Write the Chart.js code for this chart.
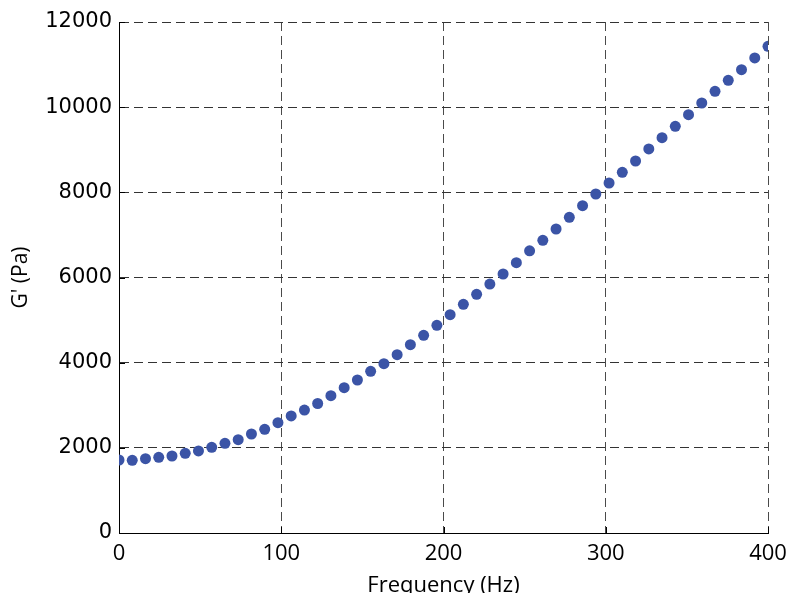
<!DOCTYPE html>
<html>
<head>
<meta charset="utf-8">
<script src="https://cdn.jsdelivr.net/npm/chart.js@4"></script>
<style>
  html, body { margin: 0; padding: 0; background: #fff; }
  #wrap { width: 791px; height: 593px; }
</style>
</head>
<body>
<div id="wrap"><canvas id="c" width="791" height="593" style="width:791px;height:593px"></canvas></div>
<script>
// Frequency sweep (Hz)
const frequencyHz = [
  0, 8.16, 16.33, 24.49, 32.65, 40.82, 48.98, 57.14, 65.31, 73.47,
  81.63, 89.80, 97.96, 106.12, 114.29, 122.45, 130.61, 138.78, 146.94, 155.10,
  163.27, 171.43, 179.59, 187.76, 195.92, 204.08, 212.24, 220.41, 228.57, 236.73,
  244.90, 253.06, 261.22, 269.39, 277.55, 285.71, 293.88, 302.04, 310.20, 318.37,
  326.53, 334.69, 342.86, 351.02, 359.18, 367.35, 375.51, 383.67, 391.84, 400
];

// Storage modulus G' (Pa)
const storageModulusPa = [
  1714, 1707, 1745, 1778, 1808, 1872, 1926, 2012, 2106, 2191,
  2325, 2435, 2590, 2748, 2888, 3041, 3224, 3412, 3593, 3797,
  3976, 4187, 4422, 4643, 4877, 5126, 5371, 5605, 5847, 6082,
  6348, 6627, 6874, 7139, 7414, 7686, 7961, 8219, 8470, 8736,
  9018, 9283, 9551, 9823, 10098, 10373, 10631, 10880, 11155, 11429
];

const xTickValues = [0, 100, 200, 300, 400];
const yTickValues = [0, 2000, 4000, 6000, 8000, 10000, 12000];

const points = frequencyHz.map((f, i) => ({ x: f, y: storageModulusPa[i] }));

// Short inward tick marks along the left and bottom axes
const innerTicks = {
  id: 'innerTicks',
  afterDraw(chart) {
    const { ctx, chartArea: a, scales: { x, y } } = chart;
    ctx.save();
    ctx.strokeStyle = '#000';
    ctx.lineWidth = 1;
    ctx.setLineDash([]);
    ctx.beginPath();
    for (const v of yTickValues) {
      const py = Math.round(y.getPixelForValue(v)) + 0.5;
      ctx.moveTo(a.left, py);
      ctx.lineTo(a.left + 6, py);
    }
    for (const v of xTickValues) {
      const px = Math.round(x.getPixelForValue(v)) + 0.5;
      ctx.moveTo(px, a.bottom);
      ctx.lineTo(px, a.bottom - 6);
    }
    ctx.stroke();
    ctx.restore();
  }
};

const labelFont = "'Open Sans', sans-serif";

new Chart(document.getElementById('c'), {
  type: 'scatter',
  data: {
    datasets: [{
      data: points,
      backgroundColor: 'rgb(59,84,166)',
      borderWidth: 0,
      pointRadius: 5.5,
      pointHoverRadius: 5.5
    }]
  },
  options: {
    responsive: false,
    animation: false,
    layout: { padding: { top: 22, right: 23, bottom: 0, left: 0 } },
    plugins: { legend: { display: false }, tooltip: { enabled: false } },
    scales: {
      x: {
        type: 'linear',
        min: 0,
        max: 400,
        afterBuildTicks: s => { s.ticks = xTickValues.map(v => ({ value: v })); },
        afterFit: s => { s.height = 60; s.paddingLeft = 0; s.paddingRight = 0; },
        ticks: {
          color: '#000',
          padding: 8,
          callback: v => String(v),
          font: { family: labelFont, size: 22 }
        },
        grid: { color: '#4a4a4a', lineWidth: 1, drawTicks: false },
        border: { display: true, color: '#000', width: 1, dash: [9, 5] },
        title: {
          display: true,
          text: 'Frequency (Hz)',
          color: '#000',
          padding: { top: 0, bottom: -6 },
          font: { family: labelFont, size: 22 }
        }
      },
      y: {
        type: 'linear',
        min: 0,
        max: 12000,
        afterBuildTicks: s => { s.ticks = yTickValues.map(v => ({ value: v })); },
        afterFit: s => { s.width = 119; s.paddingTop = 0; s.paddingBottom = 0; },
        ticks: {
          color: '#000',
          padding: 7,
          callback: v => String(v),
          font: { family: "'DejaVu Sans', sans-serif", size: 21 }
        },
        grid: { color: '#333', lineWidth: 1, drawTicks: false },
        border: { display: true, color: '#000', width: 1, dash: [9, 5] },
        title: {
          display: true,
          text: "G' (Pa)",
          color: '#000',
          padding: { top: 8, bottom: 0 },
          font: { family: labelFont, size: 21 }
        }
      }
    }
  },
  plugins: [innerTicks]
});
</script>
</body>
</html>
